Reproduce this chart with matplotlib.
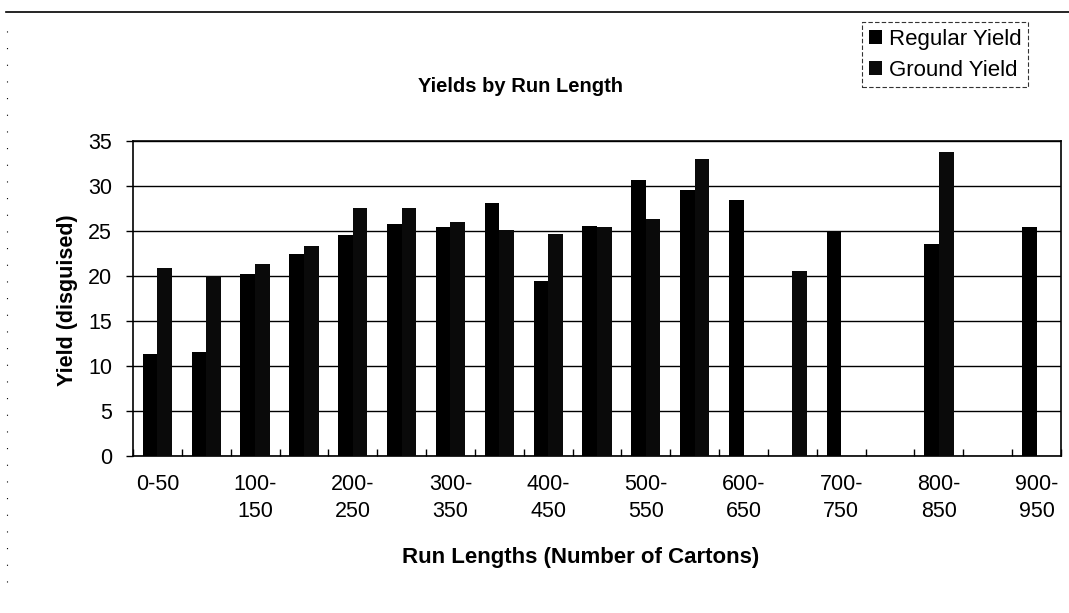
import numpy as np
import matplotlib
matplotlib.use("Agg")
import matplotlib.pyplot as plt
from matplotlib.lines import Line2D

plt.rcParams['font.family'] = ['Liberation Sans', 'DejaVu Sans']

# run length buckets (number of cartons)
categories = ['0-50', '50-100', '100-150', '150-200', '200-250', '250-300',
              '300-350', '350-400', '400-450', '450-500', '500-550', '550-600',
              '600-650', '650-700', '700-750', '750-800', '800-850', '850-900',
              '900-950']
# values, nan = no bar
regular_yield = [11.3, 11.6, 20.2, 22.4, 24.6, 25.8, 25.4, 28.1, 19.4, 25.6,
                 30.7, 29.6, 28.4, np.nan, 25.0, np.nan, 23.6, np.nan, 25.4]
ground_yield = [20.9, 20.0, 21.3, 23.3, 27.6, 27.6, 26.0, 25.1, 24.7, 25.4,
                26.3, 33.0, np.nan, 20.6, np.nan, np.nan, 33.8, np.nan, np.nan]
yticks = [0, 5, 10, 15, 20, 25, 30, 35]

W, H = 1069, 613
fig = plt.figure(figsize=(W / 100, H / 100), dpi=100)
ax = fig.add_axes([133 / W, 1 - 456 / H, (1061 - 133) / W, (456 - 141) / H])

x = np.arange(len(categories))
bw = 0.3
ax.bar(x - bw / 2, regular_yield, bw, color='black', label='Regular Yield', zorder=3)
ax.bar(x + bw / 2, ground_yield, bw, color='#0a0a0a', label='Ground Yield', zorder=3)

ax.set_xlim(-0.5, len(categories) - 0.5)
ax.set_ylim(0, 35)
ax.set_yticks(yticks)
ax.yaxis.grid(True, color='black', linewidth=1.0, zorder=0)
ax.tick_params(axis='y', labelsize=15.5, length=5, width=1, pad=10)

# labels on every other bucket, split on two lines like the original
labels = []
for i, c in enumerate(categories):
    if i % 2 == 0:
        labels.append(c if i == 0 else c.replace('-', '-\n'))
    else:
        labels.append('')
ax.set_xticks(x)
ax.set_xticklabels(labels, fontsize=15.5, linespacing=1.4, ha='center', va='top')
ax.tick_params(axis='x', which='major', length=0, pad=13)
ax.set_xticks(np.arange(len(categories) + 1) - 0.5, minor=True)
ax.tick_params(axis='x', which='minor', direction='in', length=5, width=1)

for s in ax.spines.values():
    s.set_color('black')
    s.set_linewidth(1.2)

fig.text(520 / W, 1 - 87 / H, 'Yields by Run Length', fontsize=14.5,
         fontweight='bold', ha='center', va='center')
fig.text(68 / W, 1 - 300 / H, 'Yield (disguised)', fontsize=15.5,
         fontweight='bold', ha='center', va='center', rotation=90)
fig.text(581 / W, 1 - 557 / H, 'Run Lengths (Number of Cartons)', fontsize=16,
         fontweight='bold', ha='center', va='center')

leg = fig.legend(loc='upper left', bbox_to_anchor=(862 / W, 1 - 22 / H),
                 fontsize=16, frameon=True, fancybox=False, handlelength=0.6,
                 handleheight=0.6, handletextpad=0.3, borderpad=0.3,
                 labelspacing=0.45, borderaxespad=0)
leg.get_frame().set_edgecolor('black')
leg.get_frame().set_linestyle((0, (4, 2)))
leg.get_frame().set_linewidth(0.8)

# page borders from the scan
fig.add_artist(Line2D([6 / W, 1], [1 - 12 / H, 1 - 12 / H], color='black', lw=1.2))
fig.add_artist(Line2D([7 / W, 7 / W], [0.05, 1 - 25 / H], color='black', lw=0.8,
                      linestyle=(0, (1, 14))))

fig.savefig('out.png', dpi=100)
